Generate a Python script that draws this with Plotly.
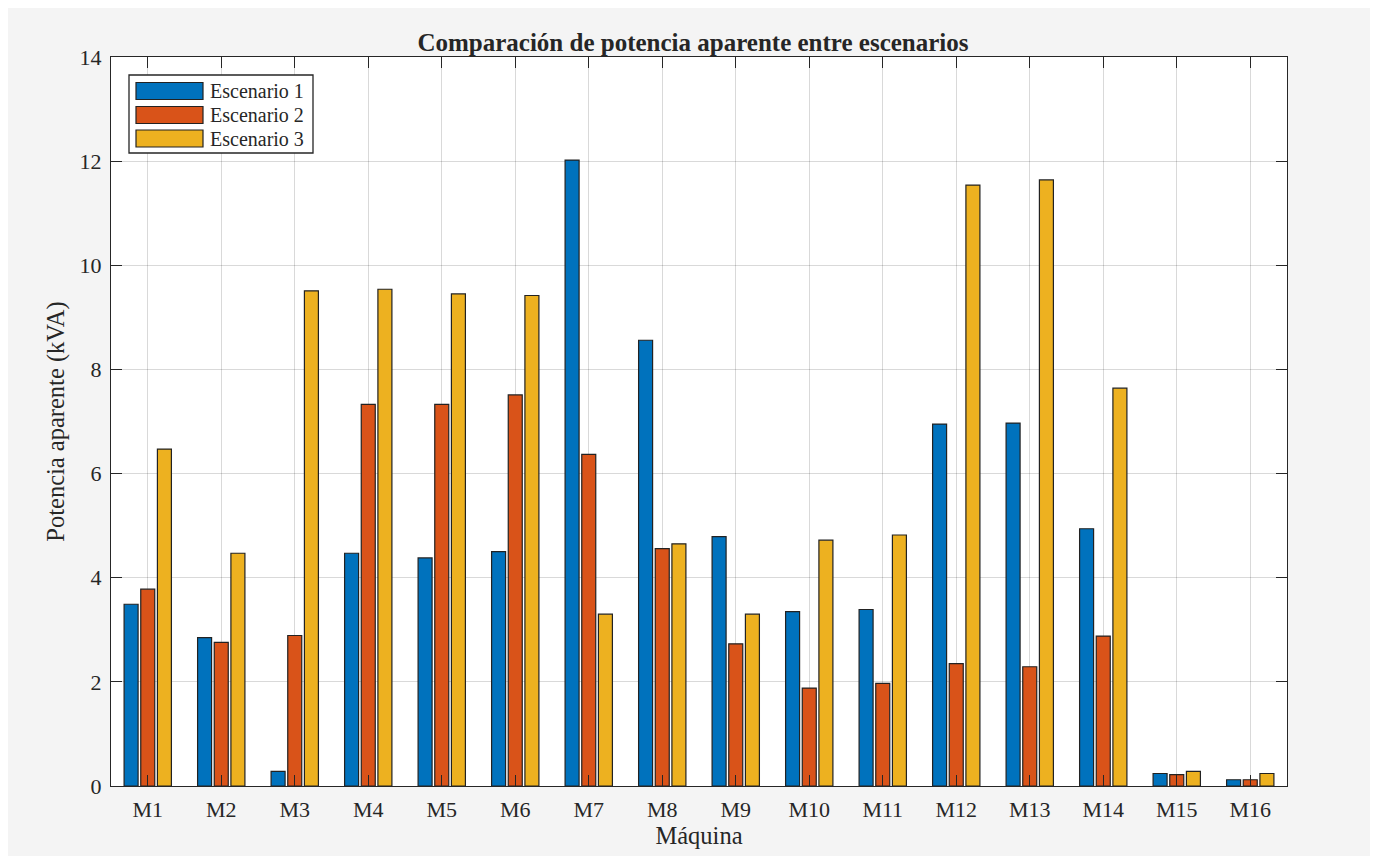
import plotly.graph_objects as go

maquinas = ["M%d" % i for i in range(1, 17)]
escenario_1 = [3.49, 2.85, 0.28, 4.47, 4.38, 4.50, 12.02, 8.56, 4.79, 3.35, 3.39, 6.95, 6.97, 4.94, 0.24, 0.12]
escenario_2 = [3.78, 2.76, 2.89, 7.33, 7.33, 7.51, 6.37, 4.56, 2.73, 1.88, 1.97, 2.35, 2.29, 2.88, 0.22, 0.12]
escenario_3 = [6.47, 4.47, 9.51, 9.54, 9.45, 9.42, 3.30, 4.65, 3.30, 4.72, 4.82, 11.54, 11.64, 7.64, 0.28, 0.24]

series = [
    ("Escenario 1", escenario_1, "#0072BD"),
    ("Escenario 2", escenario_2, "#D95319"),
    ("Escenario 3", escenario_3, "#EDB120"),
]

FONT = "Liberation Serif, Times New Roman, serif"
INK = "#262626"

fig = go.Figure()
for name, vals, color in series:
    fig.add_trace(go.Bar(
        x=maquinas, y=vals, name=name, showlegend=False,
        marker=dict(color=color, line=dict(color="#222222", width=1.2)),
    ))

axis_common = dict(
    showline=True, linecolor=INK, linewidth=1.3, mirror="ticks",
    ticks="inside", ticklen=11, tickcolor=INK, tickwidth=1.3,
    showgrid=True, gridcolor="rgba(0,0,0,0.15)", gridwidth=1,
    tickfont=dict(family=FONT, size=22, color=INK),
    zeroline=False,
)

# legend drawn by hand so the swatches are wide like the original
# plot area in page px: x 111..1287, y 57..786
def fx(px):
    return (px - 111) / 1176.0

def fy(py):
    return (786 - py) / 729.0

fig.add_shape(type="rect", xref="x domain", yref="y domain",
              x0=fx(129), x1=fx(313), y0=fy(153), y1=fy(75),
              fillcolor="white", line=dict(color=INK, width=1.3), layer="above")
row_centers = [91, 115, 138.5]
for (name, _, color), yc in zip(series, row_centers):
    fig.add_shape(type="rect", xref="x domain", yref="y domain",
                  x0=fx(136), x1=fx(203), y0=fy(yc + 8.5), y1=fy(yc - 8.5),
                  fillcolor=color, line=dict(color="#222222", width=1.2), layer="above")
    fig.add_annotation(xref="x domain", yref="y domain", x=fx(208), y=fy(yc),
                       text=name, showarrow=False, xanchor="left", yanchor="middle",
                       font=dict(family=FONT, size=20, color=INK))

fig.update_layout(
    width=1370, height=848,
    margin=dict(l=103, r=91, t=49, b=70),
    paper_bgcolor="#f4f4f4", plot_bgcolor="white",
    barmode="group", bargap=0.32, bargroupgap=0.16,
    font=dict(family=FONT, color=INK),
    showlegend=False,
    title=dict(text="<b>Comparación de potencia aparente entre escenarios</b>",
               x=0.5, xanchor="center", y=0.96, yanchor="middle",
               font=dict(family=FONT, size=25, color=INK)),
    xaxis=dict(axis_common, ticklabelstandoff=3,
               title=dict(text="Máquina", font=dict(family=FONT, size=24.5), standoff=2)),
    yaxis=dict(axis_common, range=[0, 14], dtick=2, ticklabelstandoff=4,
               title=dict(text="Potencia aparente (kVA)", font=dict(family=FONT, size=24.5), standoff=7)),
)

fig.write_html("out.html")
